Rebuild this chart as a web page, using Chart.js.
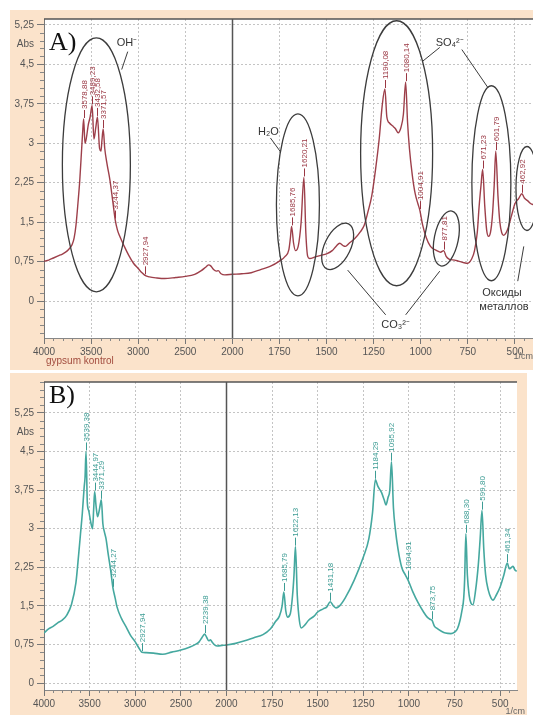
<!DOCTYPE html>
<html>
<head>
<meta charset="utf-8">
<script src="https://cdn.jsdelivr.net/npm/chart.js@4.4.1/dist/chart.umd.min.js"></script>
<style>
  html, body { margin: 0; padding: 0; background: #fff; }
  body { width: 533px; height: 715px; position: relative; overflow: hidden; }
  .panel { position: absolute; }
  #panelA { left: 10px; top: 10px; width: 523px; height: 360px; }
  #panelB { left: 10px; top: 373px; width: 517px; height: 342px; }
</style>
</head>
<body>
<div class="panel" id="panelA"><canvas id="chartA"></canvas></div>
<div class="panel" id="panelB"><canvas id="chartB"></canvas></div>
<script>
/* ---- values ---- */
const xMajorTicks = [4000, 3500, 3000, 2500, 2000, 1750, 1500, 1250, 1000, 750, 500];
const yMajorTicks = [0, 0.75, 1.5, 2.25, 3, 3.75, 4.5, 5.25];

// A) gypsum kontrol
const wavenumbersA = [
  4000, 3950, 3900, 3850, 3800, 3750, 3720, 3700, 3680, 3660, 3640, 3620, 3600, 3590, 3578.88,
  3565, 3550, 3530, 3510, 3489.23, 3470, 3450, 3432.58, 3410, 3395, 3385, 3371.57, 3355, 3330,
  3300, 3270, 3244.37, 3220, 3200, 3150, 3100, 3050, 3000, 2960, 2927.94, 2880, 2800, 2720, 2600,
  2500, 2400, 2330, 2280, 2250, 2230, 2200, 2170, 2150, 2120, 2080, 2000, 1950, 1900, 1850, 1800,
  1750, 1720, 1700, 1692, 1685.76, 1675, 1665, 1650, 1635, 1620.21, 1610, 1600, 1590, 1560, 1530,
  1500, 1470, 1450, 1430, 1410, 1400, 1380, 1350, 1320, 1300, 1280, 1260, 1240, 1220, 1205,
  1190.08, 1180, 1165, 1150, 1135, 1120, 1105, 1092, 1080.14, 1070, 1060, 1045, 1030, 1015,
  1004.91, 990, 970, 950, 936, 915, 895, 877.81, 865, 850, 820, 800, 770, 750, 730, 715, 700,
  690, 680, 671.23, 660, 650, 640, 630, 620, 610, 601.79, 590, 580, 570, 560, 540, 520, 500, 480,
  462.92, 450, 430, 415, 400
];
const absorbanceA = [
  0.76, 0.78, 0.82, 0.86, 0.9, 0.96, 1.02, 1.08, 1.2, 1.45, 1.85, 2.3, 2.9, 3.2, 3.46,
  3.0, 3.1, 3.35, 3.5, 3.72, 3.08, 3.3, 3.5, 2.9, 2.85, 3.05, 3.27, 2.9, 2.6,
  2.3, 1.9, 1.55, 1.35, 1.25, 1.05, 0.87, 0.72, 0.62, 0.54, 0.49, 0.46, 0.44, 0.43, 0.45,
  0.47, 0.51, 0.58, 0.65, 0.69, 0.67, 0.6, 0.57, 0.58, 0.52, 0.5, 0.51, 0.52, 0.54, 0.6, 0.66,
  0.76, 0.85, 0.98, 1.2, 1.42, 1.1, 0.96, 1.05, 1.5, 2.35, 1.3, 0.85, 0.81, 0.84, 0.87,
  0.9, 0.96, 1.04, 1.1, 1.05, 1.04, 1.1, 1.19, 1.32, 1.44, 1.7, 2.0, 2.5, 3.1, 3.7,
  4.03, 3.5, 3.38, 3.33, 3.28, 3.2, 3.3, 3.55, 4.16, 3.4, 2.9, 2.4, 2.05, 1.85,
  1.73, 1.45, 1.2, 1.05, 1.0, 0.96, 0.93, 0.96, 0.85, 0.8, 0.78, 0.76, 0.73, 0.72, 0.8, 0.95, 1.3,
  1.8, 2.2, 2.5, 1.8, 1.35, 1.23, 1.3, 1.6, 2.2, 2.85, 2.0, 1.5, 1.3, 1.25, 1.35, 1.6, 1.85, 1.95,
  2.04, 1.96, 1.9, 1.85, 1.83
];
const peakLabelsA = ['3578,88', '3489,23', '3432,58', '3371,57', '3244,37', '2927,94', '1685,76',
  '1620,21', '1190,08', '1080,14', '1004,91', '877,81', '671,23', '601,79', '462,92'];

// B)
const wavenumbersB = [
  4000, 3950, 3900, 3850, 3800, 3750, 3700, 3650, 3620, 3600, 3580, 3560, 3550, 3539.38, 3525,
  3510, 3490, 3468, 3455, 3444.97, 3430, 3413, 3395, 3385, 3371.29, 3355, 3340, 3320, 3300, 3270,
  3244.27, 3220, 3200, 3150, 3100, 3050, 3000, 2960, 2927.94, 2880, 2800, 2700, 2600, 2500, 2400,
  2350, 2300, 2270, 2239.38, 2215, 2195, 2175, 2160, 2130, 2100, 2050, 2000, 1950, 1900, 1850,
  1800, 1760, 1730, 1710, 1695, 1685.79, 1675, 1665, 1650, 1638, 1630, 1622.13, 1612, 1600, 1590,
  1570, 1550, 1520, 1500, 1470, 1450, 1431.18, 1415, 1400, 1380, 1350, 1300, 1250, 1220, 1200,
  1184.29, 1170, 1150, 1135, 1126, 1115, 1105, 1095.92, 1085, 1075, 1060, 1040, 1020, 1004.91,
  980, 950, 920, 900, 885, 873.75, 860, 850, 820, 800, 770, 750, 735, 720, 710, 700, 695, 688.3,
  680, 670, 660, 650, 635, 620, 610, 599.8, 590, 580, 565, 550, 540, 520, 500, 480, 461.34, 450,
  440, 430, 420, 410
];
const absorbanceB = [
  0.97, 1.05, 1.1, 1.17, 1.22, 1.32, 1.52, 1.95, 2.5, 2.9, 3.3, 3.8, 4.0, 4.5, 3.5,
  3.35, 3.15, 3.0, 3.4, 3.72, 3.45, 3.23, 3.35, 3.45, 3.56, 3.1, 2.95, 2.8, 2.55, 2.2,
  1.85, 1.65, 1.48, 1.25, 1.09, 0.92, 0.8, 0.68, 0.6, 0.59, 0.58, 0.56, 0.6, 0.64, 0.7,
  0.74, 0.8, 0.88, 0.95, 0.88, 0.82, 0.84, 0.8, 0.74, 0.72, 0.73, 0.74, 0.77, 0.82, 0.88,
  0.94, 1.05, 1.2, 1.3, 1.5, 1.77, 1.4, 1.28, 1.35, 1.7, 2.1, 2.65, 1.7, 1.2, 1.07,
  1.13, 1.22, 1.3, 1.38, 1.44, 1.48, 1.58, 1.5, 1.46, 1.5, 1.65, 2.0, 2.45, 2.8, 3.3,
  3.95, 3.82, 3.7, 3.55, 3.46, 3.6, 3.75, 4.3, 3.4, 3.0, 2.6, 2.25, 2.1, 2.0,
  1.78, 1.56, 1.38, 1.28, 1.24, 1.22, 1.1, 1.07, 1.0, 0.97, 0.96, 0.99, 1.05, 1.22, 1.4, 1.65, 2.0, 2.9,
  2.1, 1.7, 1.55, 1.52, 1.8, 2.3, 2.8, 3.35, 2.6, 2.1, 1.8, 1.65, 1.61, 1.72, 1.87, 2.1, 2.33, 2.22,
  2.24, 2.27, 2.2, 2.17
];
const peakLabelsB = ['3539,38', '3444,97', '3371,29', '3244,27', '2927,94', '2239,38', '1685,79',
  '1622,13', '1431,18', '1184,29', '1095,92', '1004,91', '873,75', '688,30', '599,80', '461,34'];

/* ---- axis with a scale change at 2000 1/cm ---- */
function toAxis(w) { return w >= 2000 ? (4000 - w) / 2 : 1000 + (2000 - w); }
function fromAxis(u) { return u <= 1000 ? 4000 - 2 * u : 2000 - (u - 1000); }

const FONT = '"Liberation Sans", Arial, sans-serif';
const ABS_POS = 4.875;

function xAxis(maxU, height) {
  return {
    type: 'linear', min: 0, max: maxU,
    afterBuildTicks: s => { s.ticks = xMajorTicks.map(w => ({ value: toAxis(w) })); },
    afterFit: s => { s.height = height; },
    ticks: { autoSkip: false, maxRotation: 0, padding: 2, color: '#555',
      font: { size: 10, family: FONT }, callback: v => String(fromAxis(v)) },
    grid: { color: '#c4c4c4', tickColor: '#777', tickLength: 6 },
    border: { color: '#888', dash: [2, 2] }
  };
}

function yAxis(min, max) {
  return {
    min, max,
    afterBuildTicks: s => {
      s.ticks = yMajorTicks.map(v => ({ value: v })).concat([{ value: ABS_POS }]);
    },
    afterFit: s => { s.width = 34; },
    ticks: { autoSkip: false, padding: 3, color: '#555', font: { size: 10, family: FONT },
      callback: v => v === ABS_POS ? 'Abs' : String(v).replace('.', ',') },
    grid: {
      color: c => (c.tick && c.tick.value === ABS_POS) ? 'transparent' : '#c4c4c4',
      tickColor: c => (c.tick && c.tick.value === ABS_POS) ? 'transparent' : '#777',
      tickLength: 7
    },
    border: { color: '#777', dash: [2, 2] }
  };
}

function decor(cfg) {
  return {
    id: 'decor',
    beforeDraw(chart) {
      const { ctx, chartArea: a, width, height } = chart;
      ctx.save();
      ctx.fillStyle = '#fbe3cb';
      ctx.fillRect(0, 0, width, height);
      ctx.fillStyle = '#fff';
      ctx.fillRect(a.left, a.top, a.right - a.left, a.bottom - a.top);
      ctx.restore();
    },
    afterDatasetsDraw(chart) {
      const { ctx, chartArea: a } = chart;
      const xs = chart.scales.x, ys = chart.scales.y;
      const X = w => xs.getPixelForValue(toAxis(w));
      const Y = v => ys.getPixelForValue(v);
      ctx.save();

      // minor ticks
      ctx.strokeStyle = '#888';
      ctx.lineWidth = 1;
      ctx.beginPath();
      for (let k = Math.ceil(ys.min / 0.15); k <= Math.floor(ys.max / 0.15); k++) {
        if (k % 5 === 0) continue;
        const py = Math.round(ys.getPixelForValue(k * 0.15)) + 0.5;
        ctx.moveTo(a.left - 4, py); ctx.lineTo(a.left, py);
      }
      for (let u = 50; u < xs.max; u += 50) {
        if (u % 250 === 0) continue;
        const px = Math.round(xs.getPixelForValue(u)) + 0.5;
        ctx.moveTo(px, a.bottom); ctx.lineTo(px, a.bottom + 3);
      }
      ctx.stroke();

      // top frame and the scale break at 2000
      ctx.strokeStyle = '#555';
      ctx.lineWidth = 1.5;
      ctx.beginPath();
      ctx.moveTo(a.left, a.top); ctx.lineTo(a.right, a.top);
      const bx = Math.round(X(2000)) + 0.5;
      ctx.moveTo(bx, a.top); ctx.lineTo(bx, a.bottom);
      ctx.stroke();

      // peak labels
      ctx.strokeStyle = cfg.color;
      ctx.fillStyle = cfg.color;
      ctx.lineWidth = 1;
      ctx.font = '8px ' + FONT;
      ctx.textBaseline = 'middle';
      ctx.textAlign = 'left';
      cfg.peaks.forEach(lbl => {
        const w = parseFloat(lbl.replace(',', '.'));
        const i = cfg.wn.findIndex(d => Math.abs(d - w) < 0.01);
        if (i < 0) return;
        const px = Math.round(X(w)) + 0.5, py = Y(cfg.abs[i]);
        let y0 = py - 9;
        const tw = ctx.measureText(lbl).width;
        if (y0 - tw < a.top + 3) y0 = a.top + 3 + tw;
        ctx.beginPath();
        ctx.moveTo(px, py - 1); ctx.lineTo(px, y0);
        ctx.stroke();
        ctx.save();
        ctx.translate(px, y0 - 1);
        ctx.rotate(-Math.PI / 2);
        ctx.fillText(lbl, 0, 0);
        ctx.restore();
      });

      // ellipses, notes, connectors
      ctx.strokeStyle = '#3c3c3c';
      ctx.lineWidth = 1.3;
      (cfg.ellipses || []).forEach(e => {
        ctx.beginPath();
        ctx.ellipse(X(e.w), Y(e.v), e.rx, e.ry, e.rot || 0, 0, Math.PI * 2);
        ctx.stroke();
      });
      ctx.lineWidth = 1;
      (cfg.links || []).forEach(l => {
        ctx.beginPath();
        ctx.moveTo(X(l[0]), Y(l[1])); ctx.lineTo(X(l[2]), Y(l[3]));
        ctx.stroke();
      });
      ctx.fillStyle = '#333';
      ctx.font = '11px ' + FONT;
      ctx.textAlign = 'center';
      (cfg.notes || []).forEach(n => ctx.fillText(n.text, X(n.w), Y(n.v)));

      // panel letter
      ctx.fillStyle = '#111';
      ctx.font = '26px "Liberation Serif", "DejaVu Serif", serif';
      ctx.textAlign = 'left';
      ctx.textBaseline = 'alphabetic';
      ctx.fillText(cfg.letter, a.left + 5, a.top + cfg.letterDy);

      // unit + sample name
      ctx.fillStyle = '#666';
      ctx.font = '9px ' + FONT;
      ctx.textAlign = 'right';
      ctx.fillText('1/cm', cfg.unitX, cfg.unitY);
      if (cfg.name) {
        ctx.fillStyle = '#a24c3e';
        ctx.font = '10px ' + FONT;
        ctx.textAlign = 'left';
        ctx.fillText(cfg.name, a.left + 2, cfg.unitY + 5);
      }
      ctx.restore();
    }
  };
}

function makeChart(id, wn, abs, color, width, scales, padRight, plugin) {
  return new Chart(document.getElementById(id), {
    type: 'line',
    data: {
      datasets: [{
        data: wn.map((w, i) => ({ x: toAxis(w), y: abs[i] })),
        borderColor: color, borderWidth: width,
        pointRadius: 0, fill: false, cubicInterpolationMode: 'monotone'
      }]
    },
    options: {
      responsive: true, maintainAspectRatio: false, animation: false, devicePixelRatio: 1,
      events: [],
      layout: { padding: { top: 9, right: padRight, left: 0, bottom: 0 } },
      plugins: { legend: { display: false }, tooltip: { enabled: false } },
      scales
    },
    plugins: [plugin]
  });
}

makeChart('chartA', wavenumbersA, absorbanceA, 'rgba(146,42,54,0.9)', 1.4,
  { x: xAxis(2596, 32), y: yAxis(-0.7, 5.36) }, 0,
  decor({
    color: '#9a3743', wn: wavenumbersA, abs: absorbanceA, peaks: peakLabelsA,
    letter: 'A)', letterDy: 31, unitX: 523, unitY: 349, name: 'gypsum kontrol',
    ellipses: [
      { w: 3444, v: 2.59, rx: 34, ry: 127 },
      { w: 1652, v: 1.83, rx: 21.5, ry: 91 },
      { w: 1441, v: 1.04, rx: 13, ry: 25, rot: 0.45 },
      { w: 1128, v: 2.81, rx: 36, ry: 132.5 },
      { w: 864, v: 1.19, rx: 12, ry: 28, rot: 0.2 },
      { w: 625, v: 2.24, rx: 19.5, ry: 97.5 },
      { w: 436, v: 2.14, rx: 11, ry: 42 }
    ],
    notes: [
      { text: 'OH⁻', w: 3120, v: 4.9 },
      { text: 'H₂O', w: 1809, v: 3.22 },
      { text: 'SO₄²⁻', w: 846, v: 4.9 },
      { text: 'CO₃²⁻', w: 1133, v: -0.45 },
      { text: 'Оксиды', w: 569, v: 0.16 },
      { text: 'металлов', w: 558, v: -0.11 }
    ],
    links: [
      [3111, 4.74, 3175, 4.40],
      [1798, 3.1, 1745, 2.84],
      [899, 4.82, 989, 4.56],
      [782, 4.78, 644, 4.06],
      [1186, -0.26, 1388, 0.59],
      [1080, -0.26, 899, 0.57],
      [485, 0.38, 453, 1.04]
    ]
  }));

makeChart('chartB', wavenumbersB, absorbanceB, '#45a89f', 1.6,
  { x: xAxis(2592, 25), y: yAxis(-0.136, 5.85) }, 10,
  decor({
    color: '#3d9c94', wn: wavenumbersB, abs: absorbanceB, peaks: peakLabelsB,
    letter: 'B)', letterDy: 21, unitX: 515, unitY: 341
  }));
</script>
</body>
</html>
